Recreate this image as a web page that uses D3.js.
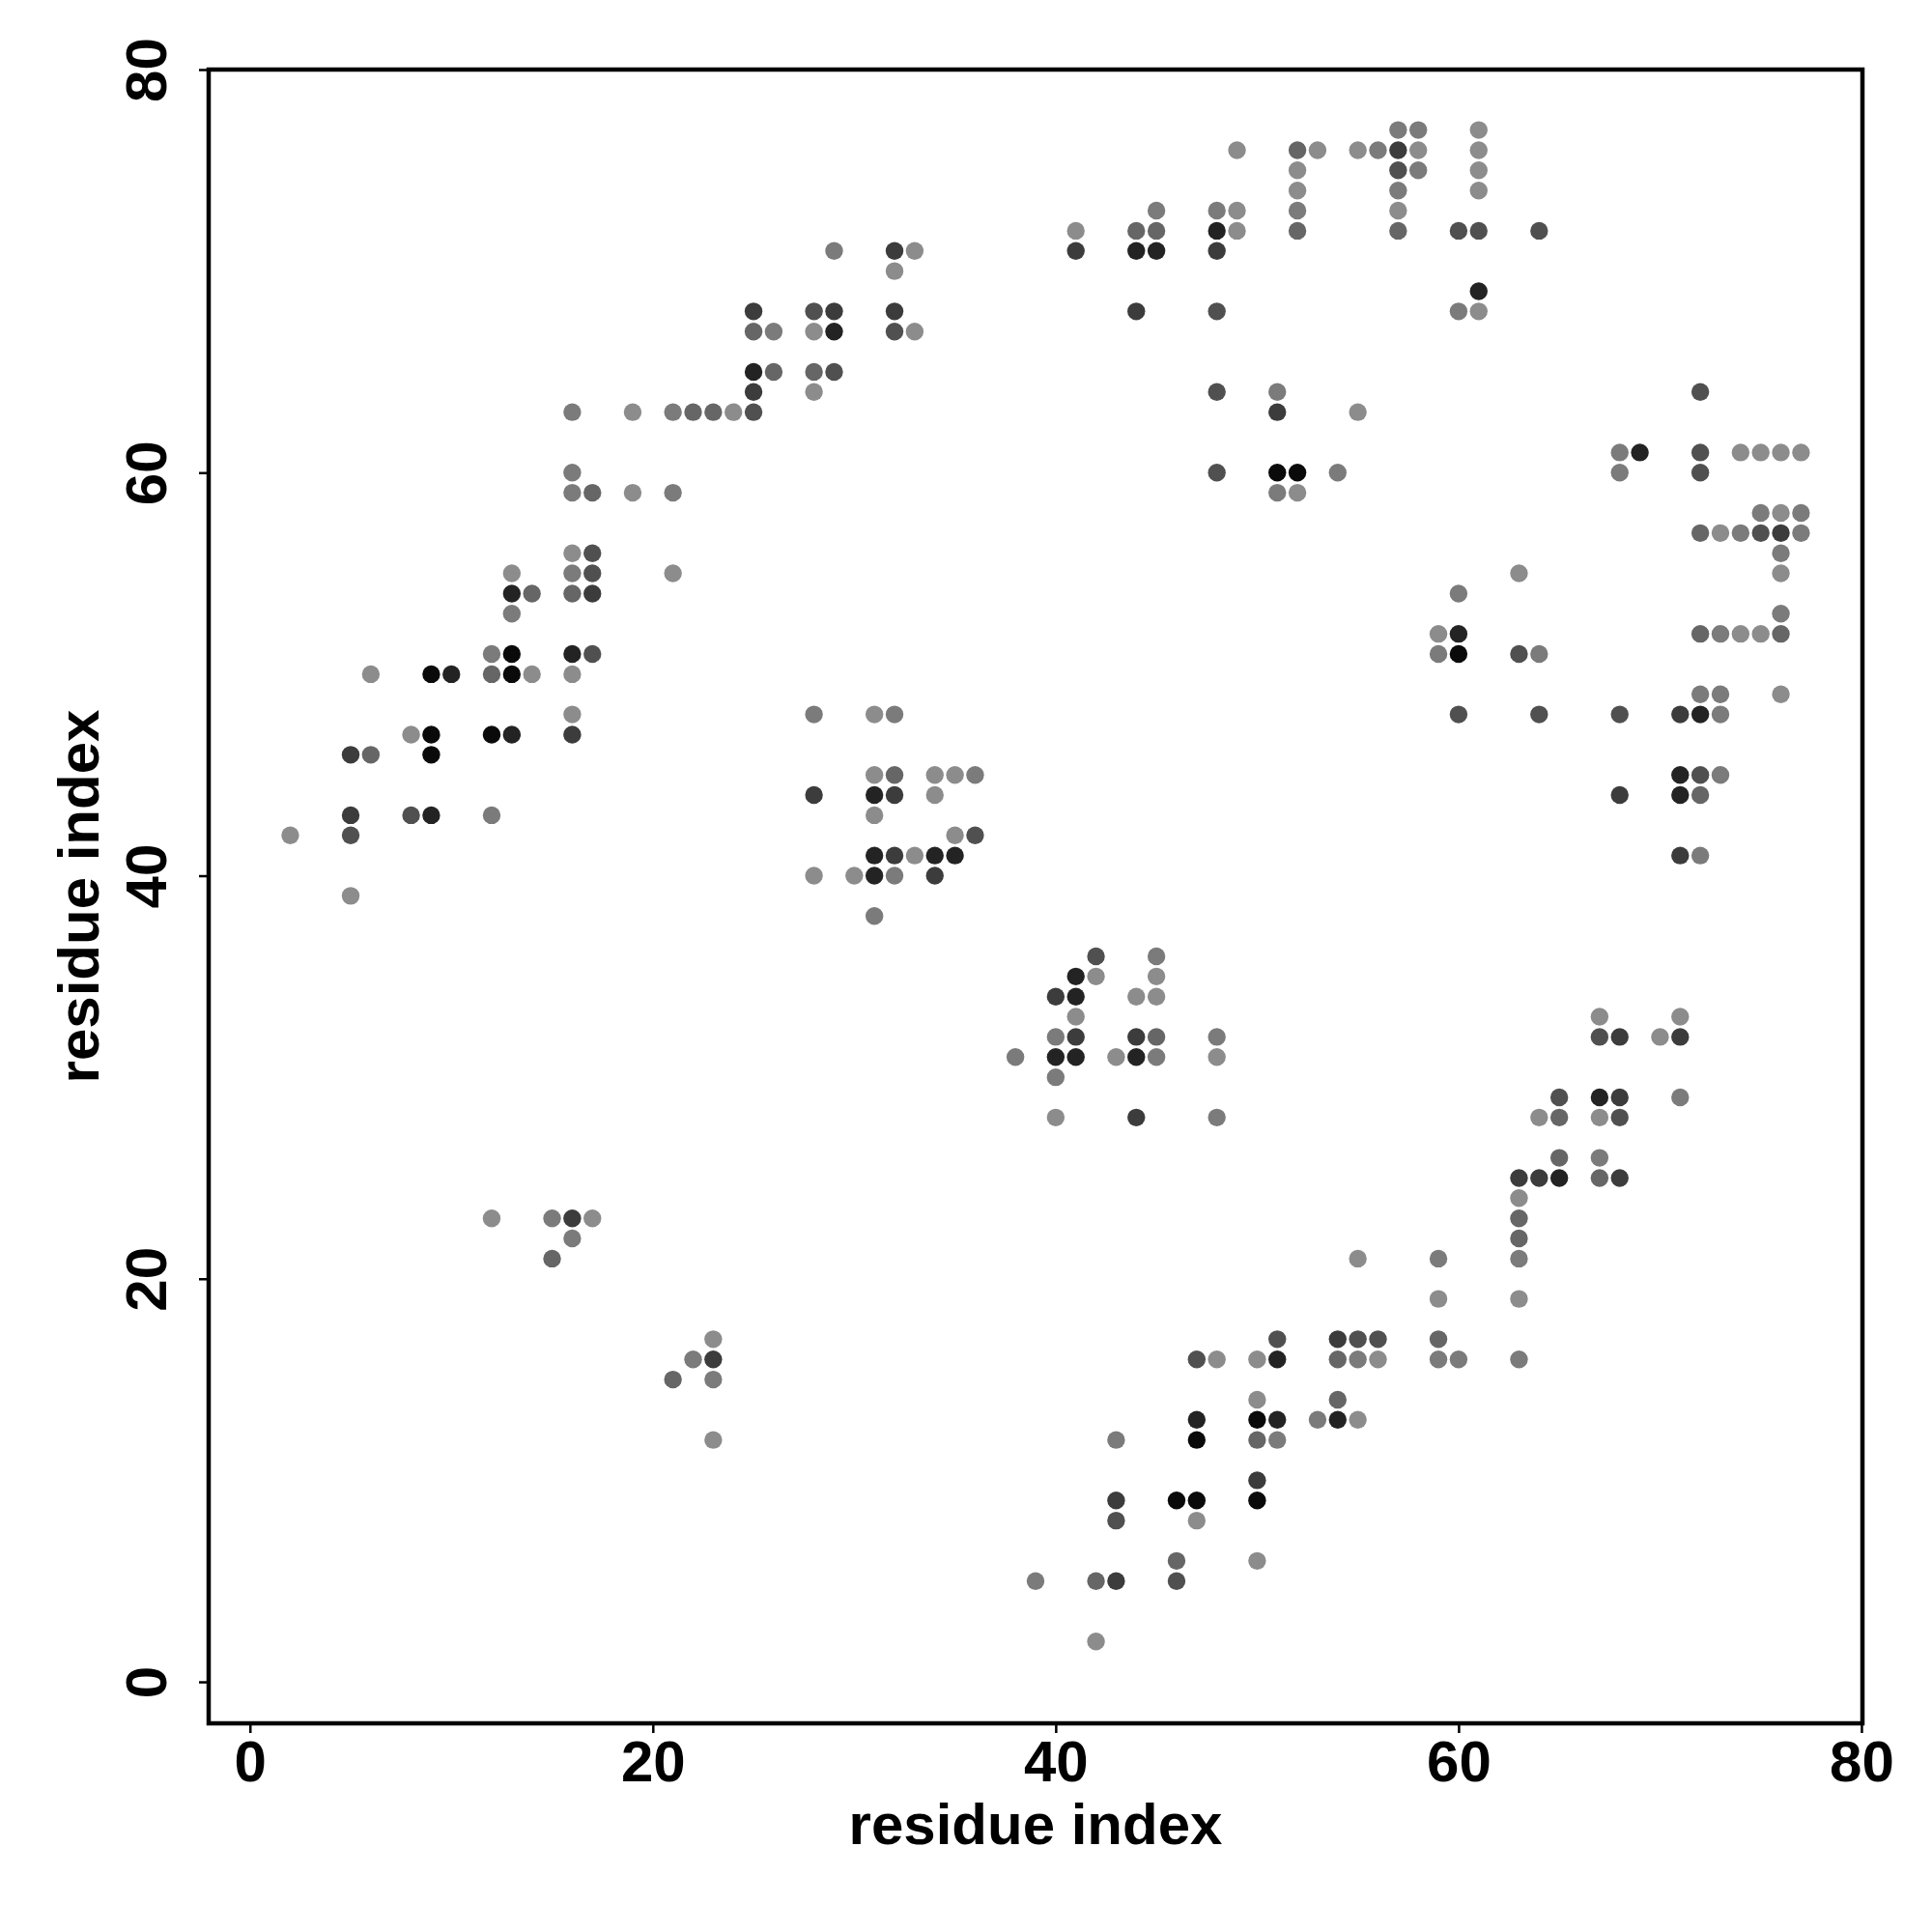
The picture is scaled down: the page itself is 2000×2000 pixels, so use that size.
<!DOCTYPE html>
<html>
<head>
<meta charset="utf-8">
<script src="https://cdn.jsdelivr.net/npm/d3@7"></script>
<style>
  body { margin: 0; background: #fff; }
  text { font-family: "Liberation Sans", Arial, Helvetica, sans-serif; font-weight: bold; }
</style>
</head>
<body>
<div id="chart"></div>
<script>
// contact map: residue pairs grouped by shade (1 = faint ... 7 = strongest)

const shadeColors = ["#8c8c8c", "#7b7b7b", "#666666", "#505050", "#3c3c3c", "#232323", "#0a0a0a"];

const shade1 = [[16,56],[13,55],[21,55],[19,63],[24,63],[19,59],[6,50],[14,50],[16,50],[16,48],[8,47],[2,42],[5,39],
  [49,76],[53,76],[52,75],[52,74],[41,72],[49,73],[49,72],[33,71],[32,70],[28,67],[33,67],[28,64],[52,59],
  [55,76],[58,76],[57,73],[61,77],[61,76],[61,75],[61,74],[61,68],[74,61],[75,61],[76,61],[77,61],[76,58],[73,57],
  [76,55],[74,52],[75,52],[63,55],[59,52],[55,63],[76,49],[67,33],[71,33],[70,32],[64,28],[67,28],
  [63,24],[55,21],[59,19],[63,19],[56,16],[55,13],[48,16],[50,16],[50,14],[47,8],[50,6],[42,2],
  [31,48],[31,45],[34,45],[35,45],[34,44],[31,43],[35,42],[33,41],[28,40],[30,40],[42,35],[45,35],[44,34],[45,34],
  [41,33],[43,31],[48,31],[40,28],[12,23],[17,23],[23,17],[23,12]];

const shade2 = [[16,63],[21,63],[16,60],[16,59],[21,59],[16,55],[13,53],[26,67],[12,51],[12,43],
  [52,73],[45,73],[48,73],[29,71],[51,64],[54,60],[51,59],
  [56,76],[57,77],[58,77],[58,75],[57,74],[60,68],[68,61],[68,60],[75,58],[77,58],[74,57],[77,57],[76,56],[76,53],[73,52],[60,54],
  [59,51],[64,51],[72,49],[73,49],[73,48],[73,45],[72,41],[71,29],[67,26],
  [63,21],[59,21],[55,16],[59,16],[60,16],[63,16],[53,13],[43,12],[51,12],[39,5],
  [28,48],[32,48],[36,45],[31,38],[45,36],[40,32],[48,32],[38,31],[45,31],[40,30],[48,28],[32,40],
  [15,23],[16,22],[22,16],[23,15]];

const shade3 = [[22,63],[23,63],[17,59],[16,54],[14,54],[25,67],[26,65],[12,50],[6,46],
  [52,76],[52,72],[44,72],[45,72],[28,65],[57,72],[72,57],[72,52],[76,52],
  [72,44],[65,28],[65,26],[67,25],[63,23],[63,22],[59,17],[54,16],[54,14],
  [50,12],[46,6],[42,5],[32,45],[45,32],[15,21],[21,15]];

const shade4 = [[25,63],[17,56],[17,55],[17,51],[5,42],[8,43],
  [28,68],[32,67],[29,65],[48,68],[48,64],[48,60],
  [57,75],[60,72],[61,72],[64,72],[72,64],[72,61],[72,60],[75,57],
  [63,51],[60,48],[64,48],[68,48],[72,45],[67,32],[65,29],[68,28],
  [55,17],[56,17],[51,17],[47,16],[43,8],[46,5],[36,42],[42,36]];

const shade5 = [[25,68],[25,64],[17,54],[16,47],[5,46],[5,43],
  [41,71],[48,71],[32,71],[29,68],[32,68],[44,68],[51,63],[57,76],[76,57],
  [71,48],[68,44],[71,41],[68,32],[71,32],[68,29],[63,25],[64,25],[68,25],
  [54,17],[50,10],[43,9],[43,5],
  [28,44],[32,44],[32,41],[34,40],[40,34],[41,32],[44,32],[44,28],[16,23],[23,16]];

const shade6 = [[25,65],[13,54],[16,51],[10,50],[13,47],[9,43],
  [44,71],[45,71],[48,72],[29,67],[61,69],[69,61],[60,52],
  [72,48],[71,45],[71,44],[67,29],[65,25],[54,13],[51,16],[47,13],[51,13],
  [31,44],[31,41],[34,41],[35,41],[31,40],[41,35],[41,34],[40,31],[41,31],[44,31]];

const shade7 = [[13,51],[9,50],[13,50],[9,47],[12,47],[9,46],[51,60],[52,60],[60,51],
  [50,13],[47,12],[46,9],[47,9],[50,9]];

const tickValues = [0, 20, 40, 60, 80];
const axisTitle = "residue index";

// layout
const W = 2000, H = 2000;
const box = { left: 216, right: 1928, top: 72, bottom: 1784 };

const svg = d3.select("#chart")
    .append("svg")
    .attr("width", W)
    .attr("height", H)
    .style("background", "#fff");

const x = d3.scaleLinear().domain([-2.05, 80.05]).range([box.left, box.right]);
const y = d3.scaleLinear().domain([-2.06, 80]).range([box.bottom, box.top]);

// points
const groups = [shade1, shade2, shade3, shade4, shade5, shade6, shade7];
const points = [];
groups.forEach((g, i) => g.forEach(p => points.push({ i: p[0], j: p[1], shade: i })));

svg.append("g")
    .selectAll("circle")
    .data(points)
    .enter()
    .append("circle")
    .attr("cx", d => x(d.i))
    .attr("cy", d => y(d.j))
    .attr("r", 9.2)
    .attr("fill", d => shadeColors[d.shade]);

// x axis
const xAxis = svg.append("g")
    .attr("transform", `translate(0,${box.bottom})`)
    .call(d3.axisBottom(x).tickValues(tickValues).tickSize(10).tickPadding(7));
xAxis.select(".domain").remove();
xAxis.selectAll("line").attr("stroke", "#000").attr("stroke-width", 2.5);
xAxis.selectAll("text")
    .attr("fill", "#000")
    .style("font-size", "60px");

// y axis, labels rotated
const yAxis = svg.append("g")
    .attr("transform", `translate(${box.left},0)`)
    .call(d3.axisLeft(y).tickValues(tickValues).tickSize(10));
yAxis.select(".domain").remove();
yAxis.selectAll("line").attr("stroke", "#000").attr("stroke-width", 2.5);
yAxis.selectAll("text")
    .attr("fill", "#000")
    .attr("transform", "rotate(-90)")
    .attr("x", 0)
    .attr("y", -44)
    .attr("dy", 0)
    .attr("text-anchor", "middle")
    .style("font-size", "60px");

// box
svg.append("rect")
    .attr("x", box.left)
    .attr("y", box.top)
    .attr("width", box.right - box.left)
    .attr("height", box.bottom - box.top)
    .attr("fill", "none")
    .attr("stroke", "#000")
    .attr("stroke-width", 4.5);

// titles
svg.append("text")
    .attr("x", (box.left + box.right) / 2)
    .attr("y", 1909)
    .attr("text-anchor", "middle")
    .style("font-size", "60px")
    .text(axisTitle);

svg.append("text")
    .attr("transform", `translate(102,${(box.top + box.bottom) / 2}) rotate(-90)`)
    .attr("text-anchor", "middle")
    .style("font-size", "60px")
    .text(axisTitle);
</script>
</body>
</html>
